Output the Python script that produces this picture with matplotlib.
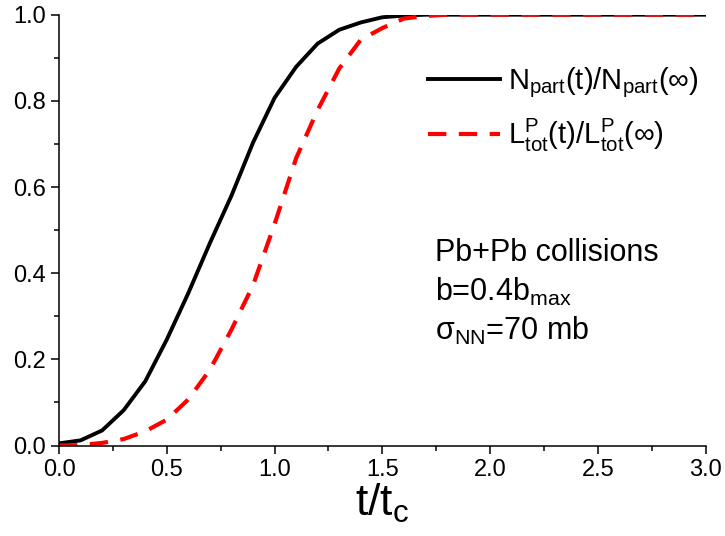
import matplotlib
matplotlib.use("Agg")
import matplotlib.pyplot as plt
from matplotlib.ticker import MultipleLocator, FormatStrFormatter

plt.rcParams['font.family'] = ['Liberation Sans', 'DejaVu Sans']
plt.rcParams['mathtext.fontset'] = 'custom'
plt.rcParams['mathtext.rm'] = 'Liberation Sans'
plt.rcParams['mathtext.it'] = 'Liberation Sans'
plt.rcParams['mathtext.bf'] = 'Liberation Sans'

# time in units of t_c
t = [0.0, 0.1, 0.2, 0.3, 0.4, 0.5, 0.6, 0.7, 0.8, 0.9, 1.0, 1.1, 1.2, 1.3, 1.4,
     1.5, 1.6, 1.7, 1.8, 1.9, 2.0, 2.5, 3.0]
# participant fraction N_part(t)/N_part(inf)
n_part = [0.005, 0.012, 0.035, 0.082, 0.149, 0.246, 0.354, 0.470, 0.580, 0.703,
          0.807, 0.879, 0.933, 0.965, 0.982, 0.994, 0.998, 1.0, 1.0, 1.0, 1.0, 1.0, 1.0]
# total string length fraction L^P_tot(t)/L^P_tot(inf)
l_tot = [0.0, 0.001, 0.006, 0.015, 0.033, 0.060, 0.107, 0.176, 0.269, 0.372,
         0.514, 0.667, 0.779, 0.875, 0.942, 0.969, 0.991, 0.997, 1.0, 1.0, 1.0, 1.0, 1.0]

fig = plt.figure(figsize=(7.25, 5.36), dpi=100)
ax = fig.add_axes([0.0814, 0.1688, 0.892, 0.8038])

ax.plot(t, n_part, color='black', lw=2.8,
        label=r'N$_{\mathrm{part}}$(t)/N$_{\mathrm{part}}$(∞)')
ax.plot(t, l_tot, color='#ff0000', lw=3.0, linestyle=(0, (4.4, 3.0)),
        label=r'L$^{\mathrm{P}}_{\mathrm{tot}}$(t)/L$^{\mathrm{P}}_{\mathrm{tot}}$(∞)')

ax.set_xlim(0, 3.0)
ax.set_ylim(0, 1.0)
ax.xaxis.set_major_locator(MultipleLocator(0.5))
ax.xaxis.set_minor_locator(MultipleLocator(0.25))
ax.yaxis.set_major_locator(MultipleLocator(0.2))
ax.yaxis.set_minor_locator(MultipleLocator(0.1))
ax.xaxis.set_major_formatter(FormatStrFormatter('%.1f'))
ax.yaxis.set_major_formatter(FormatStrFormatter('%.1f'))

for s in ['top', 'right']:
    ax.spines[s].set_visible(False)
for s in ['left', 'bottom']:
    ax.spines[s].set_linewidth(1.1)
ax.tick_params(which='major', direction='out', length=5.5, width=1.1, labelsize=17, pad=4)
ax.tick_params(which='minor', direction='out', length=3.6, width=1.1)

ax.set_xlabel(r't/t$_{\mathrm{c}}$', fontsize=32, labelpad=1)

leg = ax.legend(loc='upper left', bbox_to_anchor=(0.553, 0.91), frameon=False,
                fontsize=21, handlelength=2.45, handletextpad=0.28,
                labelspacing=0.6, borderaxespad=0)

ax.text(0.581, 0.429, 'Pb+Pb collisions', transform=ax.transAxes,
        fontsize=22, va='baseline')
ax.text(0.581, 0.336, r'b=0.4b$_{\mathrm{max}}$', transform=ax.transAxes,
        fontsize=22, va='baseline')
ax.text(0.581, 0.245, r'σ$_{\mathrm{NN}}$=70 mb', transform=ax.transAxes,
        fontsize=22, va='baseline')

fig.savefig('out.png', dpi=100)
